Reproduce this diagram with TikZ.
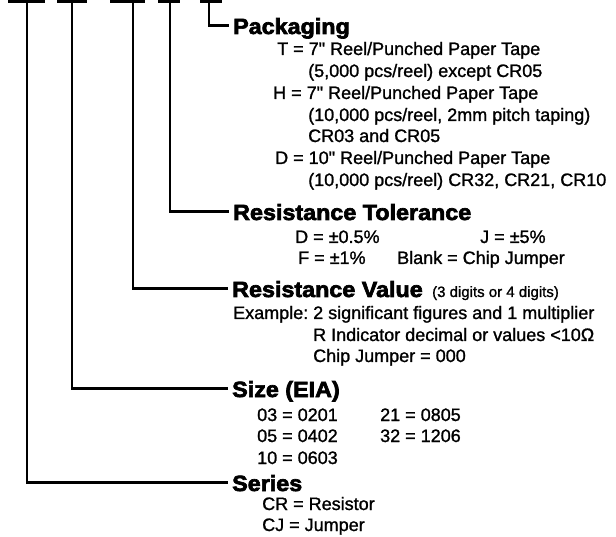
\documentclass[tikz,border=0pt]{standalone}
\usepackage{fontspec}
\newfontfamily\bodyfont[FakeBold=1.2]{Liberation Sans}
\newfontfamily\titlefont[FakeBold=3,FakeStretch=1.06]{Liberation Sans Bold}
\begin{document}
\begin{tikzpicture}[x=1pt,y=-1pt,
  conn/.style={line width=2.8pt, shorten >=4pt},
  topbar/.style={line width=3pt},
  ttl/.style={anchor=base west, inner sep=0pt, text height=17pt, text depth=0pt, font=\titlefont\fontsize{22pt}{26pt}\selectfont},
  bdy/.style={anchor=base west, inner sep=0pt, font=\bodyfont\fontsize{18pt}{22pt}\selectfont},
  sml/.style={anchor=base west, inner sep=0pt, font=\bodyfont\fontsize{15pt}{18pt}\selectfont}]
\useasboundingbox (0,0) rectangle (616,537);
% top bars
\coordinate (b1l) at (8,1.5);   \coordinate (b1r) at (45,1.5);
\coordinate (b2l) at (57,1.5);  \coordinate (b2r) at (87,1.5);
\coordinate (b3l) at (110,1.5); \coordinate (b3r) at (145,1.5);
\coordinate (b4l) at (158,1.5); \coordinate (b4r) at (180,1.5);
\coordinate (b5l) at (200,1.5); \coordinate (b5r) at (222,1.5);
\draw[topbar] (b1l) -- (b1r);
\draw[topbar] (b2l) -- (b2r);
\draw[topbar] (b3l) -- (b3r);
\draw[topbar] (b4l) -- (b4r);
\draw[topbar] (b5l) -- (b5r);
\coordinate (v1) at (27,0);
\coordinate (v2) at (72,0);
\coordinate (v3) at (133,0);
\coordinate (v4) at (170,0);
\coordinate (v5) at (209,0);
% Packaging
\node[ttl] (pkg) at (233,34) {Packaging};
\node[bdy] (pT) at (277,55) {T = 7" Reel/Punched Paper Tape};
\node[bdy] (pT2) at (308,77) {(5,000 pcs/reel) except CR05};
\node[bdy] (pH) at (273,99) {H = 7" Reel/Punched Paper Tape};
\node[bdy] (pH2) at (308,121) {(10,000 pcs/reel, 2mm pitch taping)};
\node[bdy] (pH3) at (308,142) {CR03 and CR05};
\node[bdy] (pD) at (275,164) {D = 10" Reel/Punched Paper Tape};
\node[bdy] (pD2) at (308,186) {(10,000 pcs/reel) CR32, CR21, CR10};
% Tolerance
\node[ttl] (tol) at (233,220) {Resistance Tolerance};
\node[bdy] (tD) at (295,243) {D = ±0.5\%};
\node[bdy] (tJ) at (480,243) {J = ±5\%};
\node[bdy] (tF) at (298,264) {F = ±1\%};
\node[bdy] (tB) at (397,264) {Blank = Chip Jumper};
% Value
\node[ttl] (val) at (232,297) {Resistance Value};
\node[sml] (valp) at ([xshift=9pt]val.base east) {(3 digits or 4 digits)};
\node[bdy] (vE) at (233,319) {Example:};
\node[bdy] (vA) at (313,319) {2 significant figures and 1 multiplier};
\node[bdy] (vB) at (313,341) {R Indicator decimal or values <10Ω};
\node[bdy] (vC) at (313,362) {Chip Jumper = 000};
% Size
\node[ttl] (size) at (232,397) {Size (EIA)};
\node[bdy] (s1) at (257,421) {03 = 0201};
\node[bdy] (s2) at (380,421) {21 = 0805};
\node[bdy] (s3) at (257,442) {05 = 0402};
\node[bdy] (s4) at (380,442) {32 = 1206};
\node[bdy] (s5) at (257,464) {10 = 0603};
% Series
\node[ttl] (ser) at (232,491) {Series};
\node[bdy] (r1) at (262,510) {CR = Resistor};
\node[bdy] (r2) at (262,531) {CJ = Jumper};
% connectors
\draw[conn] (v1) |- (ser.west);
\draw[conn] (v2) |- (size.west);
\draw[conn] (v3) |- (val.west);
\draw[conn] (v4) |- (tol.west);
\draw[conn] (v5) |- (pkg.west);
\end{tikzpicture}
\end{document}
